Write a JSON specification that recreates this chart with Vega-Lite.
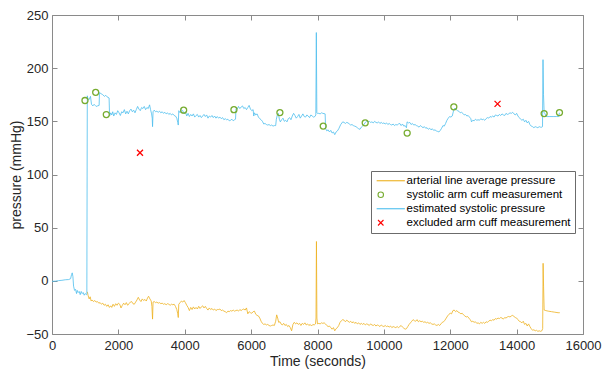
{
"$schema":"https://vega.github.io/schema/vega-lite/v6.json",
"width":531,"height":319,
"autosize":{"type":"none"},
"padding":{"left":52,"top":15,"right":20,"bottom":40},
"background":"white",
"config":{
 "font":"Liberation Sans",
 "view":{"stroke":"#8a8a8a","strokeWidth":1},
 "axis":{"grid":false,"domain":false,"tickColor":"#8a8a8a","tickSize":-5,"labelFontSize":13,"labelColor":"#262626","titleFontSize":14,"titleFontWeight":"normal","titleColor":"#262626","labelFlush":false,"labelOverlap":false},
 "legend":{"orient":"none","legendX":319,"legendY":156,"strokeColor":"#6b6b6b","fillColor":"white","padding":4,"labelFontSize":11.5,"labelColor":"#000000","labelLimit":400,"symbolSize":30,"symbolStrokeWidth":1.1,"rowPadding":1,"labelOffset":20}
},
"datasets":{
"art":[
{"t":1064,"p":-10.3},{"t":1090,"p":-14},{"t":1120,"p":-17},{"t":1150,"p":-15},{"t":1180,"p":-19},{"t":1210,"p":-18},{"t":1250,"p":-19.5},{"t":1290,"p":-18.5},{"t":1330,"p":-20},{"t":1370,"p":-19.5},{"t":1410,"p":-21},{"t":1450,"p":-20.5},{"t":1490,"p":-22},{"t":1530,"p":-21},{"t":1570,"p":-23},{"t":1610,"p":-22},{"t":1650,"p":-24},{"t":1690,"p":-22.5},{"t":1730,"p":-25},{"t":1770,"p":-23.5},{"t":1800,"p":-25},{"t":1840,"p":-22},{"t":1880,"p":-24},{"t":1920,"p":-21.5},{"t":1960,"p":-23},{"t":2000,"p":-21},{"t":2040,"p":-22},{"t":2080,"p":-25.5},{"t":2120,"p":-23},{"t":2160,"p":-21},{"t":2200,"p":-22.5},{"t":2240,"p":-20.5},{"t":2280,"p":-23},{"t":2320,"p":-21.5},{"t":2360,"p":-20},{"t":2400,"p":-19.5},{"t":2440,"p":-21.5},{"t":2480,"p":-22},{"t":2520,"p":-20},{"t":2560,"p":-18},{"t":2600,"p":-15.5},{"t":2640,"p":-18},{"t":2680,"p":-19.5},{"t":2720,"p":-17},{"t":2760,"p":-18.5},{"t":2800,"p":-17.5},{"t":2840,"p":-19},{"t":2880,"p":-16},{"t":2910,"p":-14.5},{"t":2950,"p":-17},{"t":2990,"p":-19},{"t":3010,"p":-24},{"t":3030,"p":-36},{"t":3045,"p":-20},{"t":3080,"p":-19.5},{"t":3120,"p":-20.5},{"t":3160,"p":-20},{"t":3200,"p":-21},{"t":3240,"p":-20.5},{"t":3280,"p":-21.5},{"t":3320,"p":-21},{"t":3360,"p":-22},{"t":3400,"p":-21.5},{"t":3440,"p":-22.5},{"t":3480,"p":-21.5},{"t":3520,"p":-22},{"t":3560,"p":-23},{"t":3600,"p":-22},{"t":3640,"p":-22.5},{"t":3680,"p":-22},{"t":3720,"p":-24},{"t":3760,"p":-27},{"t":3790,"p":-31},{"t":3805,"p":-34.5},{"t":3820,"p":-22},{"t":3860,"p":-20.5},{"t":3900,"p":-19},{"t":3940,"p":-20},{"t":3980,"p":-18.5},{"t":4020,"p":-20.5},{"t":4060,"p":-23},{"t":4100,"p":-25},{"t":4140,"p":-28},{"t":4180,"p":-25},{"t":4220,"p":-27},{"t":4260,"p":-24.5},{"t":4300,"p":-26.5},{"t":4340,"p":-25},{"t":4380,"p":-26.5},{"t":4420,"p":-24},{"t":4460,"p":-26},{"t":4500,"p":-24.5},{"t":4540,"p":-23.5},{"t":4580,"p":-25.5},{"t":4620,"p":-24},{"t":4660,"p":-26},{"t":4700,"p":-27.5},{"t":4740,"p":-25.5},{"t":4780,"p":-27},{"t":4820,"p":-26},{"t":4860,"p":-27.5},{"t":4900,"p":-26.5},{"t":4940,"p":-28},{"t":4980,"p":-27},{"t":5020,"p":-27},{"t":5060,"p":-26.5},{"t":5100,"p":-28},{"t":5140,"p":-27.5},{"t":5180,"p":-28.5},{"t":5220,"p":-29},{"t":5260,"p":-30},{"t":5300,"p":-28.5},{"t":5340,"p":-29},{"t":5380,"p":-28},{"t":5420,"p":-28.5},{"t":5460,"p":-27.5},{"t":5500,"p":-28.5},{"t":5540,"p":-28},{"t":5580,"p":-27.5},{"t":5620,"p":-28.5},{"t":5660,"p":-27},{"t":5700,"p":-28},{"t":5740,"p":-27},{"t":5780,"p":-26.5},{"t":5820,"p":-27.5},{"t":5860,"p":-25.5},{"t":5900,"p":-31},{"t":5940,"p":-29},{"t":5980,"p":-30},{"t":6020,"p":-30.5},{"t":6060,"p":-29},{"t":6100,"p":-28.5},{"t":6140,"p":-31.5},{"t":6180,"p":-32.5},{"t":6220,"p":-33},{"t":6260,"p":-35},{"t":6300,"p":-38},{"t":6340,"p":-40},{"t":6380,"p":-41},{"t":6420,"p":-40.5},{"t":6460,"p":-41.5},{"t":6500,"p":-41},{"t":6540,"p":-42},{"t":6580,"p":-42.5},{"t":6620,"p":-42},{"t":6660,"p":-41.5},{"t":6700,"p":-42},{"t":6740,"p":-38},{"t":6770,"p":-32},{"t":6800,"p":-35},{"t":6830,"p":-39},{"t":6870,"p":-38.5},{"t":6900,"p":-40.5},{"t":6940,"p":-41.5},{"t":6980,"p":-40},{"t":7020,"p":-42},{"t":7060,"p":-41},{"t":7100,"p":-43},{"t":7140,"p":-42},{"t":7180,"p":-44},{"t":7220,"p":-47},{"t":7260,"p":-41},{"t":7300,"p":-39},{"t":7340,"p":-40.5},{"t":7380,"p":-39.5},{"t":7420,"p":-41},{"t":7460,"p":-40},{"t":7500,"p":-42},{"t":7540,"p":-40},{"t":7580,"p":-41},{"t":7620,"p":-39.5},{"t":7660,"p":-41.5},{"t":7700,"p":-40.5},{"t":7740,"p":-42},{"t":7780,"p":-41},{"t":7820,"p":-42.5},{"t":7860,"p":-41},{"t":7900,"p":-41.5},{"t":7940,"p":-40.5},{"t":7955,"p":-35},{"t":7968,"p":37},{"t":7982,"p":-35},{"t":8000,"p":-40.5},{"t":8040,"p":-40},{"t":8080,"p":-40.5},{"t":8120,"p":-39.5},{"t":8160,"p":-40},{"t":8200,"p":-39.5},{"t":8240,"p":-40.5},{"t":8280,"p":-42},{"t":8320,"p":-43},{"t":8360,"p":-42.5},{"t":8400,"p":-44},{"t":8440,"p":-45.5},{"t":8480,"p":-44},{"t":8520,"p":-47},{"t":8560,"p":-45},{"t":8600,"p":-44},{"t":8640,"p":-42},{"t":8680,"p":-39},{"t":8720,"p":-37.5},{"t":8760,"p":-36.5},{"t":8800,"p":-37},{"t":8840,"p":-38.5},{"t":8880,"p":-37},{"t":8920,"p":-38},{"t":8960,"p":-39},{"t":9000,"p":-38},{"t":9040,"p":-39.5},{"t":9080,"p":-38.5},{"t":9120,"p":-40},{"t":9160,"p":-39},{"t":9200,"p":-40.5},{"t":9240,"p":-39.5},{"t":9280,"p":-41},{"t":9320,"p":-40},{"t":9360,"p":-41},{"t":9400,"p":-40},{"t":9440,"p":-41.5},{"t":9480,"p":-40.5},{"t":9520,"p":-41},{"t":9560,"p":-42},{"t":9600,"p":-40.5},{"t":9640,"p":-41.5},{"t":9680,"p":-42},{"t":9720,"p":-41},{"t":9760,"p":-42.5},{"t":9800,"p":-41.5},{"t":9840,"p":-42},{"t":9880,"p":-43},{"t":9920,"p":-41.5},{"t":9960,"p":-42.5},{"t":10000,"p":-43},{"t":10040,"p":-42},{"t":10080,"p":-43},{"t":10120,"p":-42.5},{"t":10160,"p":-43.5},{"t":10200,"p":-42.5},{"t":10240,"p":-44},{"t":10280,"p":-43},{"t":10320,"p":-43.5},{"t":10360,"p":-44},{"t":10400,"p":-43},{"t":10440,"p":-44},{"t":10480,"p":-43},{"t":10520,"p":-42},{"t":10560,"p":-43.5},{"t":10600,"p":-44.5},{"t":10640,"p":-45.5},{"t":10680,"p":-45},{"t":10720,"p":-43},{"t":10760,"p":-41},{"t":10800,"p":-39.5},{"t":10840,"p":-38},{"t":10880,"p":-36.5},{"t":10920,"p":-37.5},{"t":10960,"p":-38},{"t":11000,"p":-36.5},{"t":11040,"p":-38.5},{"t":11080,"p":-37.5},{"t":11120,"p":-38.5},{"t":11160,"p":-38},{"t":11200,"p":-39},{"t":11240,"p":-38.5},{"t":11280,"p":-39.5},{"t":11320,"p":-39},{"t":11360,"p":-40},{"t":11400,"p":-39.5},{"t":11440,"p":-40.5},{"t":11480,"p":-41},{"t":11520,"p":-40.5},{"t":11560,"p":-41.5},{"t":11600,"p":-42},{"t":11640,"p":-41},{"t":11680,"p":-42},{"t":11720,"p":-40.5},{"t":11760,"p":-39},{"t":11800,"p":-38.5},{"t":11840,"p":-37},{"t":11880,"p":-35},{"t":11920,"p":-33},{"t":11960,"p":-31.5},{"t":12000,"p":-30.5},{"t":12040,"p":-31},{"t":12080,"p":-28},{"t":12120,"p":-27.5},{"t":12160,"p":-29},{"t":12200,"p":-28},{"t":12240,"p":-29.5},{"t":12280,"p":-30},{"t":12320,"p":-31},{"t":12360,"p":-30.5},{"t":12400,"p":-32},{"t":12440,"p":-33},{"t":12480,"p":-34},{"t":12520,"p":-33.5},{"t":12560,"p":-35},{"t":12600,"p":-36.5},{"t":12640,"p":-38.5},{"t":12680,"p":-38},{"t":12720,"p":-39},{"t":12760,"p":-38.5},{"t":12800,"p":-40},{"t":12840,"p":-39.5},{"t":12880,"p":-40.5},{"t":12920,"p":-39},{"t":12960,"p":-40},{"t":13000,"p":-39},{"t":13040,"p":-40},{"t":13080,"p":-38.5},{"t":13120,"p":-39},{"t":13160,"p":-38},{"t":13200,"p":-37},{"t":13240,"p":-37.5},{"t":13280,"p":-36.5},{"t":13320,"p":-37},{"t":13360,"p":-35.5},{"t":13400,"p":-36},{"t":13440,"p":-35},{"t":13480,"p":-35.5},{"t":13520,"p":-34.5},{"t":13560,"p":-35},{"t":13600,"p":-36},{"t":13640,"p":-34.5},{"t":13680,"p":-35},{"t":13720,"p":-34},{"t":13760,"p":-33.5},{"t":13800,"p":-34},{"t":13840,"p":-33},{"t":13880,"p":-32.5},{"t":13920,"p":-33.5},{"t":13960,"p":-34.5},{"t":14000,"p":-35},{"t":14040,"p":-36.5},{"t":14080,"p":-38},{"t":14120,"p":-38.5},{"t":14160,"p":-39.5},{"t":14200,"p":-38},{"t":14240,"p":-41},{"t":14280,"p":-40},{"t":14320,"p":-42.5},{"t":14360,"p":-40.5},{"t":14400,"p":-43},{"t":14440,"p":-45},{"t":14480,"p":-46.5},{"t":14520,"p":-46},{"t":14560,"p":-47},{"t":14600,"p":-46.5},{"t":14640,"p":-47.5},{"t":14680,"p":-47},{"t":14720,"p":-47.5},{"t":14760,"p":-47},{"t":14785,"p":-45},{"t":14798,"p":16.5},{"t":14812,"p":-5},{"t":14830,"p":-27.5},{"t":14880,"p":-28},{"t":14950,"p":-28.5},{"t":15050,"p":-29},{"t":15150,"p":-29.5},{"t":15250,"p":-30},{"t":15300,"p":-30}
],
"est":[
{"t":0,"p":-0.5},{"t":100,"p":-0.3},{"t":200,"p":0.2},{"t":300,"p":0.5},{"t":400,"p":1},{"t":500,"p":1.2},{"t":560,"p":2},{"t":590,"p":6},{"t":610,"p":7.5},{"t":630,"p":4},{"t":650,"p":-5},{"t":680,"p":-9},{"t":710,"p":-8},{"t":740,"p":-12},{"t":760,"p":-9},{"t":790,"p":-11},{"t":820,"p":-10},{"t":850,"p":-13},{"t":880,"p":-10},{"t":910,"p":-12},{"t":940,"p":-11},{"t":970,"p":-13.5},{"t":1000,"p":-12},{"t":1040,"p":-13},{"t":1050,"p":-12},{"t":1064,"p":174},{"t":1080,"p":171},{"t":1120,"p":170.5},{"t":1160,"p":173.5},{"t":1190,"p":166},{"t":1230,"p":164.5},{"t":1270,"p":166},{"t":1300,"p":165},{"t":1330,"p":164},{"t":1370,"p":164.5},{"t":1420,"p":165},{"t":1430,"p":177},{"t":1480,"p":176},{"t":1530,"p":175},{"t":1580,"p":173.5},{"t":1620,"p":174.5},{"t":1660,"p":173},{"t":1720,"p":172},{"t":1735,"p":155},{"t":1770,"p":158},{"t":1800,"p":156},{"t":1830,"p":159},{"t":1860,"p":155},{"t":1900,"p":158},{"t":1940,"p":156.5},{"t":1980,"p":160},{"t":2020,"p":158},{"t":2060,"p":155.5},{"t":2100,"p":159},{"t":2140,"p":158},{"t":2180,"p":161},{"t":2220,"p":157},{"t":2260,"p":159.5},{"t":2300,"p":157},{"t":2340,"p":160},{"t":2380,"p":161.5},{"t":2420,"p":159},{"t":2460,"p":160.5},{"t":2500,"p":158},{"t":2540,"p":161},{"t":2580,"p":164},{"t":2620,"p":161.5},{"t":2660,"p":160},{"t":2700,"p":163},{"t":2740,"p":162},{"t":2780,"p":164},{"t":2820,"p":161},{"t":2860,"p":163},{"t":2900,"p":162},{"t":2940,"p":165.5},{"t":2970,"p":161},{"t":3000,"p":157},{"t":3020,"p":153},{"t":3030,"p":145},{"t":3045,"p":159},{"t":3080,"p":160.5},{"t":3120,"p":159},{"t":3160,"p":159.5},{"t":3200,"p":158.5},{"t":3240,"p":159.5},{"t":3280,"p":158},{"t":3320,"p":159},{"t":3360,"p":157.5},{"t":3400,"p":158.5},{"t":3440,"p":157},{"t":3480,"p":158},{"t":3520,"p":156.5},{"t":3560,"p":157.5},{"t":3600,"p":156},{"t":3640,"p":157},{"t":3680,"p":155.5},{"t":3720,"p":155},{"t":3760,"p":153},{"t":3790,"p":149},{"t":3805,"p":146.5},{"t":3820,"p":160},{"t":3860,"p":158},{"t":3900,"p":161},{"t":3940,"p":160},{"t":3980,"p":157},{"t":4020,"p":159},{"t":4060,"p":155},{"t":4100,"p":157.5},{"t":4140,"p":154.5},{"t":4180,"p":156.5},{"t":4220,"p":155},{"t":4260,"p":157},{"t":4300,"p":154},{"t":4340,"p":155.5},{"t":4380,"p":156.5},{"t":4420,"p":154},{"t":4460,"p":155.5},{"t":4500,"p":153.5},{"t":4540,"p":155},{"t":4580,"p":156.5},{"t":4620,"p":154.5},{"t":4660,"p":156},{"t":4700,"p":153},{"t":4740,"p":155},{"t":4780,"p":154},{"t":4820,"p":155.5},{"t":4860,"p":153.5},{"t":4900,"p":155},{"t":4940,"p":153},{"t":4980,"p":154.5},{"t":5020,"p":153},{"t":5060,"p":154},{"t":5100,"p":152.5},{"t":5140,"p":153.5},{"t":5180,"p":151.5},{"t":5220,"p":152.5},{"t":5260,"p":151.5},{"t":5300,"p":152},{"t":5340,"p":150.5},{"t":5380,"p":151},{"t":5420,"p":152},{"t":5460,"p":150.5},{"t":5500,"p":151.5},{"t":5530,"p":152},{"t":5545,"p":162},{"t":5580,"p":161.5},{"t":5620,"p":164},{"t":5660,"p":162},{"t":5700,"p":163.5},{"t":5740,"p":164.5},{"t":5780,"p":162},{"t":5820,"p":163},{"t":5860,"p":161},{"t":5900,"p":163},{"t":5940,"p":165},{"t":5980,"p":161.5},{"t":6020,"p":160},{"t":6060,"p":161},{"t":6080,"p":155},{"t":6100,"p":158},{"t":6140,"p":156},{"t":6180,"p":157},{"t":6220,"p":154},{"t":6260,"p":152.5},{"t":6300,"p":151.5},{"t":6340,"p":150},{"t":6380,"p":147.5},{"t":6420,"p":148},{"t":6460,"p":147},{"t":6500,"p":146.5},{"t":6540,"p":147},{"t":6580,"p":146},{"t":6620,"p":146.5},{"t":6660,"p":145.5},{"t":6700,"p":146},{"t":6740,"p":146},{"t":6760,"p":152},{"t":6790,"p":156},{"t":6820,"p":157.5},{"t":6850,"p":152},{"t":6880,"p":149.5},{"t":6920,"p":151.5},{"t":6960,"p":153},{"t":7000,"p":150},{"t":7040,"p":151},{"t":7080,"p":149.5},{"t":7120,"p":152.5},{"t":7160,"p":153.5},{"t":7200,"p":151.5},{"t":7240,"p":155},{"t":7280,"p":157.5},{"t":7320,"p":155.5},{"t":7360,"p":153},{"t":7400,"p":154.5},{"t":7440,"p":156.5},{"t":7480,"p":153},{"t":7520,"p":155},{"t":7560,"p":157},{"t":7600,"p":154.5},{"t":7640,"p":154},{"t":7680,"p":156},{"t":7720,"p":155},{"t":7760,"p":153.5},{"t":7800,"p":156},{"t":7840,"p":155},{"t":7880,"p":154},{"t":7920,"p":154.5},{"t":7950,"p":156},{"t":7965,"p":233.5},{"t":7980,"p":158},{"t":8000,"p":157.5},{"t":8040,"p":157.5},{"t":8080,"p":157},{"t":8120,"p":158},{"t":8160,"p":157.5},{"t":8230,"p":157},{"t":8245,"p":143},{"t":8280,"p":141},{"t":8320,"p":142},{"t":8360,"p":140},{"t":8400,"p":141.5},{"t":8440,"p":139},{"t":8480,"p":140},{"t":8520,"p":137.5},{"t":8560,"p":140},{"t":8600,"p":141},{"t":8640,"p":143},{"t":8700,"p":147},{"t":8760,"p":149.5},{"t":8800,"p":149},{"t":8840,"p":148},{"t":8880,"p":149},{"t":8920,"p":148.5},{"t":8960,"p":147.5},{"t":9000,"p":146.5},{"t":9040,"p":147},{"t":9080,"p":146},{"t":9120,"p":145.5},{"t":9160,"p":145},{"t":9200,"p":144},{"t":9240,"p":143},{"t":9280,"p":142.5},{"t":9320,"p":144.5},{"t":9360,"p":145.5},{"t":9400,"p":147},{"t":9440,"p":149},{"t":9480,"p":150},{"t":9520,"p":149.5},{"t":9560,"p":150},{"t":9600,"p":149},{"t":9640,"p":149.5},{"t":9680,"p":148.5},{"t":9720,"p":150},{"t":9760,"p":149},{"t":9800,"p":148.5},{"t":9840,"p":149.5},{"t":9880,"p":148},{"t":9920,"p":149},{"t":9960,"p":148},{"t":10000,"p":148.5},{"t":10040,"p":147.5},{"t":10080,"p":148.5},{"t":10120,"p":147},{"t":10160,"p":148},{"t":10200,"p":147},{"t":10240,"p":146.5},{"t":10280,"p":147.5},{"t":10320,"p":146},{"t":10360,"p":147},{"t":10400,"p":146.5},{"t":10440,"p":147.5},{"t":10480,"p":148},{"t":10520,"p":146},{"t":10560,"p":147.5},{"t":10600,"p":145.5},{"t":10640,"p":146},{"t":10680,"p":144},{"t":10700,"p":149.5},{"t":10740,"p":148.5},{"t":10780,"p":149},{"t":10820,"p":147},{"t":10860,"p":148},{"t":10900,"p":146.5},{"t":10940,"p":147},{"t":10980,"p":146},{"t":11020,"p":145.5},{"t":11060,"p":144.5},{"t":11100,"p":146},{"t":11140,"p":145},{"t":11180,"p":144},{"t":11220,"p":145},{"t":11260,"p":143.5},{"t":11300,"p":144},{"t":11340,"p":142.5},{"t":11380,"p":143.5},{"t":11420,"p":142},{"t":11460,"p":143},{"t":11500,"p":141.5},{"t":11540,"p":142},{"t":11580,"p":141},{"t":11620,"p":140.5},{"t":11660,"p":140},{"t":11700,"p":141.5},{"t":11740,"p":143.5},{"t":11780,"p":146},{"t":11820,"p":145.5},{"t":11860,"p":148},{"t":11900,"p":151},{"t":11940,"p":153},{"t":11980,"p":154.5},{"t":12020,"p":154},{"t":12060,"p":155},{"t":12100,"p":160},{"t":12140,"p":162.5},{"t":12180,"p":161},{"t":12220,"p":160},{"t":12260,"p":159.5},{"t":12300,"p":158},{"t":12340,"p":158.5},{"t":12380,"p":157.5},{"t":12420,"p":156},{"t":12460,"p":156.5},{"t":12500,"p":155},{"t":12540,"p":155.5},{"t":12580,"p":154},{"t":12620,"p":152.5},{"t":12640,"p":149.5},{"t":12680,"p":151},{"t":12720,"p":150.5},{"t":12760,"p":152},{"t":12800,"p":151},{"t":12840,"p":151.5},{"t":12880,"p":151},{"t":12920,"p":152.5},{"t":12960,"p":151.5},{"t":13000,"p":152},{"t":13040,"p":151},{"t":13080,"p":152.5},{"t":13120,"p":153.5},{"t":13160,"p":153},{"t":13200,"p":154.5},{"t":13240,"p":154},{"t":13280,"p":155},{"t":13320,"p":154},{"t":13360,"p":156},{"t":13400,"p":155.5},{"t":13440,"p":155},{"t":13480,"p":156.5},{"t":13520,"p":155.5},{"t":13560,"p":157},{"t":13600,"p":156},{"t":13640,"p":155.5},{"t":13680,"p":157.5},{"t":13720,"p":156.5},{"t":13760,"p":157},{"t":13800,"p":158},{"t":13840,"p":157.5},{"t":13880,"p":158.5},{"t":13920,"p":157},{"t":13960,"p":156},{"t":14000,"p":157.5},{"t":14040,"p":155},{"t":14080,"p":153.5},{"t":14120,"p":152},{"t":14160,"p":151},{"t":14200,"p":152},{"t":14240,"p":149.5},{"t":14280,"p":151},{"t":14320,"p":148.5},{"t":14360,"p":150},{"t":14400,"p":147},{"t":14440,"p":145.5},{"t":14480,"p":145},{"t":14520,"p":144},{"t":14560,"p":145},{"t":14600,"p":144.5},{"t":14640,"p":144},{"t":14680,"p":145},{"t":14720,"p":144.5},{"t":14760,"p":144.5},{"t":14780,"p":145},{"t":14795,"p":208},{"t":14810,"p":175},{"t":14830,"p":158},{"t":14860,"p":157},{"t":14880,"p":155},{"t":14920,"p":154.5},{"t":15000,"p":154.5},{"t":15100,"p":154.5},{"t":15200,"p":154.5},{"t":15270,"p":154.5},{"t":15290,"p":158}
],
"cuff":[
{"t":994,"p":169.6,"series":"systolic arm cuff measurement"},
{"t":1316,"p":177.3,"series":"systolic arm cuff measurement"},
{"t":1636,"p":156.4,"series":"systolic arm cuff measurement"},
{"t":3967,"p":160.5,"series":"systolic arm cuff measurement"},
{"t":5482,"p":161,"series":"systolic arm cuff measurement"},
{"t":6867,"p":158.2,"series":"systolic arm cuff measurement"},
{"t":8172,"p":145.5,"series":"systolic arm cuff measurement"},
{"t":9437,"p":148.6,"series":"systolic arm cuff measurement"},
{"t":10702,"p":139,"series":"systolic arm cuff measurement"},
{"t":12108,"p":163.6,"series":"systolic arm cuff measurement"},
{"t":14829,"p":157.3,"series":"systolic arm cuff measurement"},
{"t":15291,"p":158.2,"series":"systolic arm cuff measurement"},
{"t":2651,"p":120.5,"series":"excluded arm cuff measurement"},
{"t":13425,"p":166.4,"series":"excluded arm cuff measurement"}
]
},
"layer":[
 {"data":{"name":"art"},"mark":{"type":"line","color":"#EDB120","strokeWidth":0.8},
  "encoding":{
   "x":{"field":"t","type":"quantitative","scale":{"domain":[0,16000],"nice":false},"axis":{"orient":"bottom","values":[0,2000,4000,6000,8000,10000,12000,14000,16000],"format":"d","title":"Time (seconds)","labelPadding":10,"titlePadding":2}},
   "y":{"field":"p","type":"quantitative","scale":{"domain":[-50,250],"nice":false},"axis":{"orient":"left","values":[-50,0,50,100,150,200,250],"format":"d","title":"pressure (mmHg)","labelPadding":9,"titlePadding":2}}}},
 {"data":{"name":"est"},"mark":{"type":"line","color":"#4DBEEE","strokeWidth":0.8},
  "encoding":{
   "x":{"field":"t","type":"quantitative","axis":{"orient":"top","values":[0,2000,4000,6000,8000,10000,12000,14000,16000],"labels":false,"title":null}},
   "y":{"field":"p","type":"quantitative","axis":{"orient":"right","values":[-50,0,50,100,150,200,250],"labels":false,"title":null}}}},
 {"data":{"name":"cuff"},"mark":{"type":"point","filled":false,"size":36,"strokeWidth":1.3,"opacity":1},
  "encoding":{
   "x":{"field":"t","type":"quantitative","axis":null},
   "y":{"field":"p","type":"quantitative","axis":null},
   "color":{"field":"series","type":"nominal","scale":{"domain":["arterial line average pressure","systolic arm cuff measurement","estimated systolic pressure","excluded arm cuff measurement"],"range":["#EDB120","#77AC30","#4DBEEE","#FF0000"]},"legend":{"title":null,"labelExpr":"datum.label + '\u00a0\u00a0'"}},
   "shape":{"field":"series","type":"nominal","scale":{"domain":["arterial line average pressure","systolic arm cuff measurement","estimated systolic pressure","excluded arm cuff measurement"],"range":["M-1.5,0L8.8,0","circle","M-1.5,0L8.8,0","M-1,-1L1,1M-1,1L1,-1"]},"legend":{"title":null,"labelExpr":"datum.label + '\u00a0\u00a0'"}}}}
],
"resolve":{"axis":{"x":"independent","y":"independent"}}
}
